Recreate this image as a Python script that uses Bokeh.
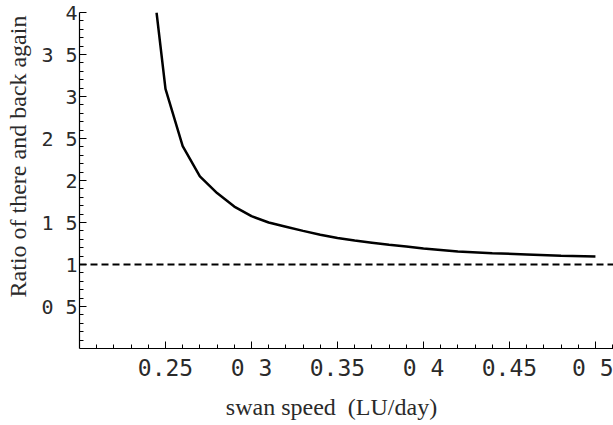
from bokeh.plotting import figure
from bokeh.models import Range1d, FixedTicker, Span
from bokeh.embed import file_html
from bokeh.resources import INLINE

# data
speed = [0.2448, 0.25, 0.26, 0.27, 0.28, 0.29, 0.30, 0.31, 0.32, 0.33, 0.34, 0.35,
         0.36, 0.37, 0.38, 0.39, 0.40, 0.42, 0.44, 0.46, 0.48, 0.50]
ratio = [4.0, 3.09, 2.41, 2.05, 1.85, 1.69, 1.575, 1.50, 1.45, 1.40, 1.355, 1.315,
         1.285, 1.26, 1.235, 1.215, 1.19, 1.155, 1.135, 1.12, 1.105, 1.095]
reference_ratio = 1.0

x_ticks = [0.25, 0.3, 0.35, 0.4, 0.45, 0.5]
x_tick_labels = ["0.25", "0 3", "0.35", "0 4", "0.45", "0 5"]
x_minor = [round(0.20 + 0.01 * i, 2) for i in range(1, 32)]
y_ticks = [0.5, 1.0, 1.5, 2.0, 2.5, 3.0, 3.5, 4.0]
y_tick_labels = ["0 5", "1", "1 5", "2", "2 5", "3", "3 5", "4"]
y_minor = [round(0.1 * i, 1) for i in range(1, 40)]

x_title = "swan speed \u00a0(LU/day)"
y_title = "Ratio of there and back again"

p = figure(frame_width=534, frame_height=336, output_backend="svg", toolbar_location=None,
           x_range=Range1d(0.2, 0.5105), y_range=Range1d(0.0, 4.0),
           min_border_left=79, min_border_right=0, min_border_top=12, min_border_bottom=77)
p.outline_line_color = None
p.xgrid.grid_line_color = None
p.ygrid.grid_line_color = None
p.background_fill_color = "white"
p.border_fill_color = "white"

p.line(speed, ratio, line_color="black", line_width=2.5)
p.add_layout(Span(location=reference_ratio, dimension="width", line_color="black",
                  line_width=2, line_dash="7 4"))

for ax, ticks, labels, minor in ((p.xaxis[0], x_ticks, x_tick_labels, x_minor),
                                 (p.yaxis[0], y_ticks, y_tick_labels, y_minor)):
    ax.ticker = FixedTicker(ticks=ticks, minor_ticks=minor)
    ax.major_label_overrides = {t: l for t, l in zip(ticks, labels)}
    ax.axis_line_color = "black"
    ax.axis_line_width = 1.2
    ax.major_tick_in = 7
    ax.major_tick_out = 0
    ax.minor_tick_in = 4
    ax.minor_tick_out = 0
    ax.major_tick_line_color = "black"
    ax.minor_tick_line_color = "black"
    ax.major_label_text_font = "DejaVu Sans Mono"
    ax.major_label_text_color = "#2a2a2a"
    ax.axis_label_text_font = "Liberation Serif"
    ax.axis_label_text_font_style = "normal"
    ax.axis_label_text_font_size = "24px"
    ax.axis_label_text_color = "#2a2a2a"

p.xaxis.major_label_text_font_size = "23px"
p.yaxis.major_label_text_font_size = "20px"
p.xaxis.major_label_standoff = 6
p.yaxis.major_label_standoff = 2
p.xaxis.axis_label = x_title + "\u00a0" * 5
p.yaxis.axis_label = "\u00a0" * 8 + y_title
p.xaxis.axis_label_standoff = 10
p.yaxis.axis_label_standoff = 7

open("out.html", "w").write(file_html(p, INLINE))
